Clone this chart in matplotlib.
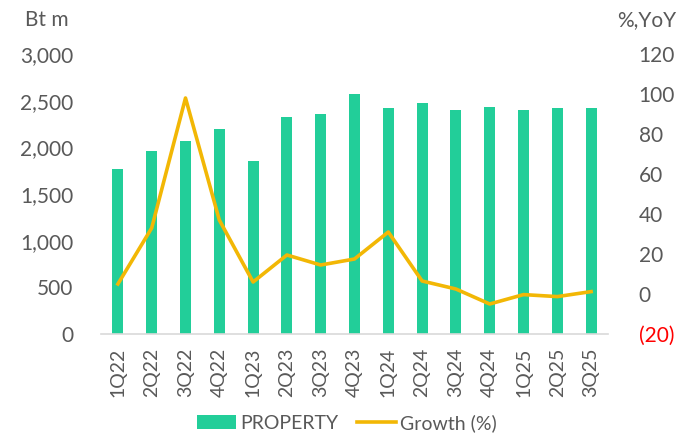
import matplotlib
matplotlib.use("Agg")
import matplotlib.pyplot as plt
from matplotlib.ticker import FuncFormatter

quarters = ["1Q22", "2Q22", "3Q22", "4Q22", "1Q23", "2Q23", "3Q23", "4Q23",
            "1Q24", "2Q24", "3Q24", "4Q24", "1Q25", "2Q25", "3Q25"]
property_rev = [1770, 1960, 2070, 2200, 1850, 2330, 2360, 2570,
                2420, 2470, 2400, 2430, 2400, 2420, 2420]
growth = [5, 33, 98, 37, 6, 19.5, 14.5, 17.5, 31, 6.5, 2.5, -5, -0.3, -1.3, 1.2]
left_ticks = [0, 500, 1000, 1500, 2000, 2500, 3000]
right_ticks = [-20, 0, 20, 40, 60, 80, 100, 120]

BAR = "#22CE99"
LINE = "#F2B705"
TXT = "#595959"

plt.rcParams["font.family"] = ["Lato", "DejaVu Sans"]

fig = plt.figure(figsize=(6.94, 4.36), dpi=100)
ax = fig.add_axes([101/694, 1 - 334/436, (608-101)/694, 280/436])
ax2 = ax.twinx()

x = list(range(len(quarters)))
ax.bar(x, property_rev, width=0.32, color=BAR, label="PROPERTY", zorder=2)
ax2.plot(x, growth, color=LINE, lw=2.6, label="Growth (%)", zorder=3)

ax.set_xlim(-0.5, len(quarters) - 0.5)
ax.set_ylim(0, 3000)
ax2.set_ylim(-20, 120)
ax.set_yticks(left_ticks)
ax2.set_yticks(right_ticks)
ax.yaxis.set_major_formatter(FuncFormatter(lambda v, p: f"{int(v):,}"))
ax2.yaxis.set_major_formatter(FuncFormatter(lambda v, p: f"({int(-v)})" if v < 0 else f"{int(v)}"))

ax.set_xticks(x)
ax.set_xticklabels(quarters, rotation=90, fontsize=14, color=TXT)

for a in (ax, ax2):
    for s in ["top", "left", "right", "bottom"]:
        a.spines[s].set_visible(False)
    a.tick_params(length=0)
ax.spines["bottom"].set_visible(True)
ax.spines["bottom"].set_color("#D9D9D9")
ax.spines["bottom"].set_linewidth(1.2)

ax.tick_params(axis="y", labelsize=15, labelcolor=TXT, pad=20)
ax.tick_params(axis="x", pad=10)
ax2.tick_params(axis="y", labelsize=15, labelcolor=TXT, pad=22)
fig.canvas.draw()
for lbl, v in zip(ax2.get_yticklabels(), ax2.get_yticks()):
    if v < 0:
        lbl.set_color("#FF0000")

fig.text(47/694, 1 - 20/436, "Bt m", fontsize=15, color=TXT, ha="center", va="center")
fig.text(647/694, 1 - 20/436, "%,YoY", fontsize=15, color=TXT, ha="center", va="center")

h1, l1 = ax.get_legend_handles_labels()
h2, l2 = ax2.get_legend_handles_labels()
fig.legend(h1 + h2, l1 + l2, loc="center", bbox_to_anchor=(0.5, 1 - 423/436),
           ncol=2, frameon=False, fontsize=14, labelcolor=TXT,
           handlelength=2.0, handletextpad=0.2, columnspacing=1.0)

fig.savefig("out.png", dpi=100)
